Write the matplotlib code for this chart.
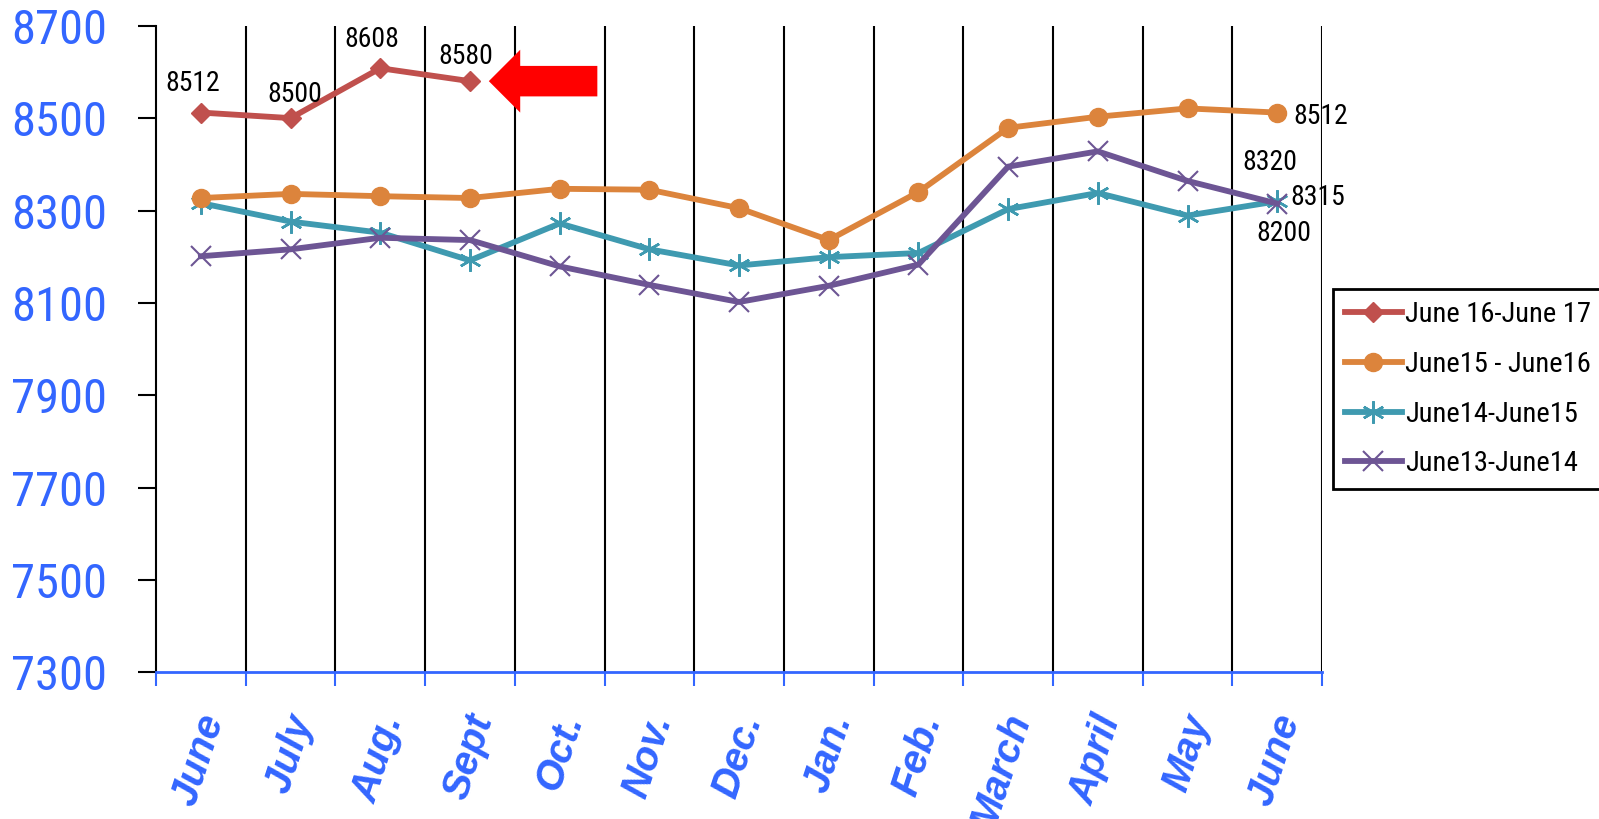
import numpy as np
import matplotlib
matplotlib.use("Agg")
import matplotlib.pyplot as plt
from matplotlib import font_manager
from matplotlib.patches import FancyArrow
from matplotlib.transforms import ScaledTranslation

# --- data ---
months = ["June", "July", "Aug.", "Sept", "Oct.", "Nov.", "Dec.", "Jan.",
          "Feb.", "March", "April", "May", "June"]

june16_17 = [8512, 8500, 8608, 8580]
june15_16 = [8327, 8336, 8331, 8327, 8347, 8345, 8305, 8236, 8340, 8479, 8503, 8521, 8512]
june14_15 = [8316, 8276, 8252, 8192, 8272, 8216, 8181, 8199, 8208, 8303, 8338, 8289, 8320]
june13_14 = [8201, 8216, 8241, 8236, 8179, 8139, 8102, 8137, 8183, 8395, 8428, 8364, 8315]

y_ticks = [7300, 7500, 7700, 7900, 8100, 8300, 8500, 8700]

BLUE = "#3366FF"

# pick a narrow face if one is installed, else plain Liberation Sans
fonts = font_manager.fontManager.ttflist
names = {f.name for f in fonts}
narrow = None
for cand in ["Liberation Sans Narrow", "Arial Narrow", "Roboto Condensed",
             "Open Sans Condensed", "Noto Sans Condensed"]:
    if cand in names:
        narrow = dict(family=cand)
        break
if narrow is None and any(f.name == "DejaVu Sans" and f.stretch == "condensed"
                          for f in fonts):
    narrow = dict(family="DejaVu Sans", stretch="condensed")
if narrow is None:
    narrow = dict(family="Liberation Sans")
scale = 1.0 if narrow["family"] != "Liberation Sans" else 0.86

fig = plt.figure(figsize=(15.99, 8.19), dpi=100)
ax = fig.add_axes([0.0976, 0.1789, 0.7292, 0.7897])

x = np.arange(len(months))

ax.plot(x[:len(june16_17)], june16_17, color="#C0504D", lw=4.2, marker="D", ms=10,
        label="June 16-June 17", zorder=5)
ax.plot(x, june15_16, color="#DC843C", lw=4.2, marker="o", ms=13,
        label="June15 - June16", zorder=4)
ax.plot(x, june14_15, color="#3F9AB0", lw=4.2, marker=(6, 2, 0), ms=16, mew=1.8,
        label="June14-June15", zorder=3)
ax.plot(x, june13_14, color="#6D5594", lw=4.2, marker="x", ms=14, mew=1.5,
        label="June13-June14", zorder=3)

# axes limits and ticks
ax.set_xlim(-0.5, len(months) - 0.5)
ax.set_ylim(y_ticks[0], y_ticks[-1])
ax.set_yticks(y_ticks)
ax.set_yticklabels([str(v) for v in y_ticks], color=BLUE, fontsize=35 * scale,
                   **narrow)
ax.tick_params(axis="y", length=13, width=1.5, pad=22, color="black")

ax.set_xticks(np.arange(-0.5, len(months)))
ax.set_xticklabels([])
ax.set_xticks(x, minor=True)
ax.set_xticklabels(months, minor=True, rotation=72, ha="right", va="center",
                   rotation_mode="anchor", color=BLUE, fontsize=29,
                   fontweight="bold", style="italic", family="Liberation Sans")
ax.tick_params(axis="x", which="major", length=10, width=1.5, color=BLUE)
ax.tick_params(axis="x", which="minor", length=0, pad=31)
shift = ScaledTranslation(12 / 100, 0, fig.dpi_scale_trans)
for lab in ax.get_xticklabels(minor=True):
    lab.set_transform(lab.get_transform() + shift)

# vertical separators between months
for b in np.arange(0.5, len(months)):
    ax.axvline(b, color="black", lw=1.5, zorder=1)

ax.spines["top"].set_visible(False)
ax.spines["right"].set_visible(False)
ax.spines["left"].set_linewidth(1.5)
ax.spines["bottom"].set_color(BLUE)
ax.spines["bottom"].set_linewidth(2)

# value labels
lab_kw = dict(textcoords="offset pixels", fontsize=20 * scale, color="black",
              ha="center", va="center", zorder=6, **narrow)
red_offsets = [(-8, 29), (4, 24), (-8, 29), (-4, 25)]
for i, (v, off) in enumerate(zip(june16_17, red_offsets)):
    ax.annotate(str(v), (x[i], v), xytext=off, **lab_kw)

last = x[-1]
ax.annotate(str(june15_16[-1]), (last, june15_16[-1]), xytext=(16, -4),
            **{**lab_kw, "ha": "left"})
ax.annotate(str(june14_15[-1]), (last, june14_15[-1]), xytext=(-7, 39), **lab_kw)
ax.annotate(str(june13_14[-1]), (last, june13_14[-1]), xytext=(13, 6),
            **{**lab_kw, "ha": "left"})
ax.annotate(str(june13_14[0] - 1), (last, june13_14[-1]), xytext=(7, -30), **lab_kw)

# red arrow pointing at the latest value
tip = x[len(june16_17) - 1] + 0.21
tail = x[len(june16_17) - 1] + 1.42
ax.add_patch(FancyArrow(tail, june16_17[-1], tip - tail, 0, width=66,
                        head_width=136, head_length=0.35,
                        length_includes_head=True, color="#FF0000", lw=0,
                        zorder=6))

leg_prop = font_manager.FontProperties(size=20.5 * scale, **narrow)
leg = ax.legend(loc="upper left", bbox_to_anchor=(0.8336, 0.647),
                bbox_transform=fig.transFigure, prop=leg_prop,
                frameon=True, fancybox=False, edgecolor="black", framealpha=1,
                handlelength=2.0 / scale, handletextpad=0.1,
                labelspacing=0.8 / scale, borderpad=0.42 / scale,
                borderaxespad=0, numpoints=1)
leg.get_frame().set_linewidth(2)

fig.savefig("out.png", dpi=100)
